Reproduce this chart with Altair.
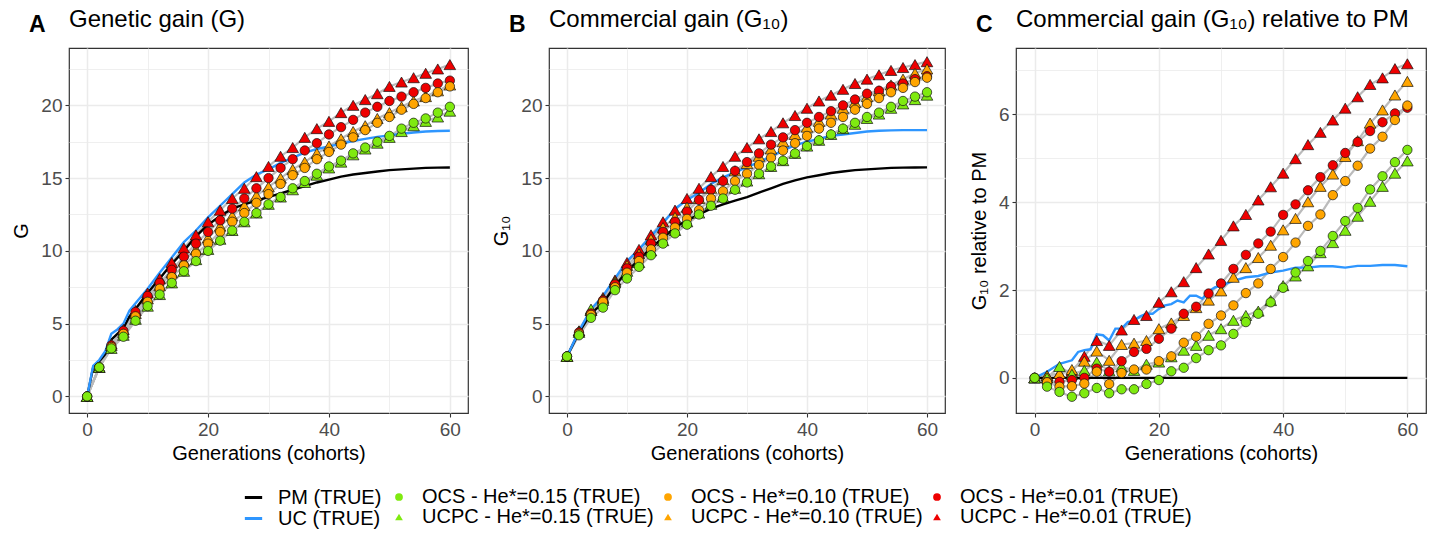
import altair as alt
import pandas as pd

# ---------------- data ----------------
GENS = list(range(0, 61, 2))

LINE_SERIES = ["PM (TRUE)", "UC (TRUE)"]
LINE_COLORS = ["#000000", "#2E96FF"]
# legend order (filled column by column): OCS over UCPC in each column
MARK_SERIES = ["OCS - He*=0.15 (TRUE)", "UCPC - He*=0.15 (TRUE)",
               "OCS - He*=0.10 (TRUE)", "UCPC - He*=0.10 (TRUE)",
               "OCS - He*=0.01 (TRUE)", "UCPC - He*=0.01 (TRUE)"]
OCS_SERIES = ["OCS - He*=0.15 (TRUE)", "OCS - He*=0.10 (TRUE)", "OCS - He*=0.01 (TRUE)"]
UCPC_SERIES = ["UCPC - He*=0.15 (TRUE)", "UCPC - He*=0.10 (TRUE)", "UCPC - He*=0.01 (TRUE)"]
MARK_FILLS = ["#7FEA10", "#7FEA10", "#FFA500", "#FFA500", "#EE0000", "#EE0000"]
MARK_SHAPES = ["circle", "triangle-up", "circle", "triangle-up", "circle", "triangle-up"]

# Panel A : genetic gain G
A_pm_g = [0, 1, 2, 3, 4, 5, 6, 7, 8] + list(range(10, 61, 2))
A_pm = [0, 2.0, 2.4, 2.9, 3.9, 4.3, 4.7, 5.5, 6.0, 7.1, 8.1, 9.1, 10.0, 11.0, 11.8, 12.4, 12.9, 13.2,
        13.45, 13.7, 13.95, 14.2, 14.45, 14.7, 14.9, 15.1, 15.25, 15.35, 15.45, 15.55, 15.6, 15.65,
        15.7, 15.72, 15.73]
A_uc_g = [0, 1, 2, 3, 4, 5, 6, 7, 8] + list(range(10, 61, 2))
A_uc = [0, 2.1, 2.5, 3.1, 4.3, 4.6, 5.0, 5.9, 6.4, 7.4, 8.5, 9.55, 10.6, 11.4, 12.3, 13.1, 13.9, 14.7,
        15.25, 15.6, 16.05, 16.4, 16.75, 17.0, 17.17, 17.37, 17.55, 17.7, 17.83, 17.94, 18.05, 18.13,
        18.2, 18.24, 18.25]
A_ucpc01 = [0, 2.0, 3.6, 4.6, 5.9, 7.1, 8.1, 9.2, 10.2, 11.1, 12.0, 12.8, 13.6, 14.3, 15.1, 15.8,
            16.5, 17.1, 17.8, 18.4, 18.9, 19.5, 20.0, 20.4, 20.8, 21.3, 21.6, 21.9, 22.2, 22.5, 22.8]
A_ocs01 = [0, 2.0, 3.5, 4.5, 5.8, 6.9, 7.8, 8.7, 9.6, 10.5, 11.3, 12.1, 12.9, 13.6, 14.3, 15.0,
           15.7, 16.3, 16.9, 17.4, 18.0, 18.5, 19.0, 19.5, 19.9, 20.3, 20.6, 20.9, 21.2, 21.5, 21.7]
A_ucpc10 = [0, 2.0, 3.5, 4.4, 5.7, 6.7, 7.6, 8.5, 9.3, 10.1, 10.9, 11.7, 12.4, 13.1, 13.8, 14.4,
            15.0, 15.6, 16.1, 16.7, 17.2, 17.7, 18.2, 18.6, 19.1, 19.5, 19.9, 20.3, 20.6, 21.0, 21.4]
A_ocs10 = [0, 2.0, 3.4, 4.3, 5.5, 6.5, 7.4, 8.2, 9.0, 9.8, 10.5, 11.3, 12.0, 12.6, 13.3, 13.9,
           14.6, 15.2, 15.7, 16.3, 16.8, 17.3, 17.8, 18.3, 18.8, 19.2, 19.7, 20.1, 20.5, 20.9, 21.3]
A_ucpc15 = [0, 2.0, 3.3, 4.2, 5.3, 6.2, 7.0, 7.8, 8.6, 9.4, 10.1, 10.8, 11.4, 12.0, 12.6, 13.2,
            13.7, 14.2, 14.7, 15.2, 15.7, 16.1, 16.6, 17.0, 17.4, 17.8, 18.2, 18.6, 18.9, 19.2, 19.6]
A_ocs15 = [0, 2.0, 3.3, 4.1, 5.2, 6.2, 7.0, 7.8, 8.6, 9.3, 10.0, 10.7, 11.4, 12.0, 12.6, 13.2,
           13.7, 14.3, 14.8, 15.3, 15.8, 16.2, 16.7, 17.1, 17.5, 17.9, 18.4, 18.8, 19.1, 19.5, 19.9]

# Panel B : commercial gain G10
B_pm_g = GENS
B_pm = [2.75, 4.4, 5.7, 6.4, 7.6, 8.6, 9.4, 10.2, 10.9, 11.6, 12.1, 12.5, 12.9, 13.2, 13.45, 13.7,
        14.0, 14.3, 14.6, 14.85, 15.05, 15.2, 15.35, 15.45, 15.55, 15.6, 15.65, 15.7, 15.72, 15.73, 15.74]
B_uc_g = GENS
B_uc = [2.75, 4.5, 6.0, 6.9, 8.1, 9.3, 10.1, 11.0, 11.9, 12.9, 13.5, 14.0, 14.6, 15.05, 15.4, 15.75,
        16.1, 16.5, 16.9, 17.25, 17.5, 17.7, 17.9, 18.0, 18.1, 18.2, 18.25, 18.28, 18.3, 18.3, 18.3]
B_ucpc01 = [2.75, 4.5, 5.9, 6.8, 8.0, 9.2, 10.1, 11.1, 12.0, 12.8, 13.6, 14.3, 15.1, 15.8, 16.5, 17.1,
            17.7, 18.2, 18.8, 19.3, 19.8, 20.3, 20.7, 21.1, 21.5, 21.8, 22.1, 22.4, 22.6, 22.8, 23.0]
B_ocs01 = [2.75, 4.4, 5.7, 6.6, 7.7, 8.8, 9.6, 10.5, 11.3, 12.0, 12.7, 13.5, 14.2, 14.8, 15.5, 16.1,
           16.7, 17.3, 17.8, 18.3, 18.8, 19.2, 19.6, 20.0, 20.4, 20.8, 21.0, 21.3, 21.5, 21.8, 22.0]
B_ucpc10 = [2.75, 4.5, 5.9, 6.7, 7.9, 9.0, 9.8, 10.8, 11.6, 12.3, 13.0, 13.6, 14.3, 14.9, 15.5, 16.0,
            16.5, 17.0, 17.5, 18.0, 18.5, 18.9, 19.4, 19.8, 20.2, 20.6, 21.0, 21.4, 21.8, 22.2, 22.5]
B_ocs10 = [2.75, 4.3, 5.6, 6.5, 7.5, 8.5, 9.3, 10.1, 10.9, 11.6, 12.2, 12.8, 13.6, 14.1, 14.8, 15.3,
           15.9, 16.4, 16.9, 17.4, 17.9, 18.4, 18.8, 19.2, 19.7, 20.1, 20.5, 20.9, 21.2, 21.6, 21.9]
B_ucpc15 = [2.75, 4.4, 6.0, 6.6, 7.8, 8.6, 9.2, 10.0, 10.7, 11.4, 12.0, 12.6, 13.2, 13.7, 14.3, 14.8,
            15.3, 15.8, 16.2, 16.7, 17.2, 17.6, 18.0, 18.4, 18.7, 19.1, 19.4, 19.8, 20.1, 20.4, 20.7]
B_ocs15 = [2.75, 4.2, 5.4, 6.1, 7.3, 8.1, 8.9, 9.7, 10.5, 11.2, 11.8, 12.5, 13.1, 13.6, 14.2, 14.7,
           15.3, 15.8, 16.2, 16.7, 17.2, 17.6, 18.0, 18.4, 18.8, 19.2, 19.5, 19.9, 20.3, 20.6, 20.9]

# Panel C : G10 relative to PM
C_pm_g = [0, 60]
C_pm = [0, 0]
C_uc_g = [0, 2, 4, 6] + list(range(7, 31)) + list(range(32, 61, 2))
C_uc = [0, 0.14, 0.32, 0.4, 0.59, 0.63, 0.65, 0.99, 0.97, 0.85, 1.12, 1.12, 1.27, 1.31, 1.4, 1.46,
        1.46, 1.57, 1.65, 1.68, 1.76, 1.72, 1.87, 1.87, 1.8, 1.97, 2.06, 2.1, 2.21, 2.29, 2.32, 2.4,
        2.44, 2.51, 2.51, 2.54, 2.54, 2.51, 2.55, 2.55, 2.57, 2.57, 2.54]
C_ucpc01 = [0, 0.05, 0.1, 0.15, 0.49, 0.85, 0.74, 1.09, 1.33, 1.42, 1.72, 1.96, 2.19, 2.51, 2.82, 3.13,
            3.46, 3.72, 4.05, 4.35, 4.66, 4.99, 5.31, 5.59, 5.87, 6.14, 6.40, 6.68, 6.83, 7.04, 7.15]
C_ocs01 = [0, -0.1, -0.09, -0.05, 0.0, 0.21, 0.14, 0.38, 0.59, 0.66, 0.89, 1.12, 1.46, 1.62, 1.92, 2.15,
           2.48, 2.8, 3.06, 3.33, 3.71, 3.95, 4.27, 4.57, 4.84, 5.12, 5.37, 5.62, 5.82, 6.02, 6.15]
C_ucpc10 = [0, 0.05, 0.1, 0.19, 0.38, 0.61, 0.4, 0.76, 0.79, 0.85, 1.12, 1.25, 1.42, 1.6, 1.77, 1.98,
            2.29, 2.51, 2.74, 3.02, 3.37, 3.63, 4.01, 4.36, 4.64, 5.04, 5.4, 5.8, 6.1, 6.44, 6.75]
C_ocs10 = [0, -0.1, -0.2, -0.19, -0.13, 0.14, -0.14, 0.11, 0.19, 0.19, 0.38, 0.49, 0.8, 0.94, 1.23, 1.42,
           1.65, 1.93, 2.15, 2.48, 2.75, 3.08, 3.46, 3.72, 4.16, 4.48, 4.83, 5.22, 5.49, 5.87, 6.2]
C_ucpc15 = [0, 0.0, 0.26, 0.08, 0.17, 0.36, 0.16, 0.25, 0.17, 0.31, 0.36, 0.48, 0.63, 0.74, 0.97, 1.12,
            1.31, 1.42, 1.52, 1.76, 2.1, 2.32, 2.55, 2.85, 3.08, 3.36, 3.68, 4.02, 4.36, 4.66, 4.94]
C_ocs15 = [0, -0.2, -0.32, -0.43, -0.35, -0.23, -0.35, -0.26, -0.26, -0.14, -0.05, 0.15, 0.23, 0.45, 0.63,
           0.74, 1.0, 1.27, 1.46, 1.72, 2.05, 2.4, 2.66, 2.89, 3.23, 3.57, 3.87, 4.29, 4.59, 4.91, 5.19]

# ---------------- styling ----------------
FONT = "Liberation Sans"
GRID = "#EBEBEB"

stroke_scale = alt.Scale(domain=LINE_SERIES, range=LINE_COLORS)
fill_scale = alt.Scale(domain=MARK_SERIES, range=MARK_FILLS)
shape_scale = alt.Scale(domain=MARK_SERIES, range=MARK_SHAPES)

LEG_Y = 439
LINE_LEGEND = alt.Legend(
    title=None, orient="none", legendX=174, legendY=LEG_Y, columns=1,
    labelFont=FONT, labelFontSize=20, labelColor="#000000", labelLimit=400,
    rowPadding=-5, labelOffset=14, symbolType="stroke", symbolSize=300, symbolStrokeWidth=3,
)
MARK_LEGEND = alt.Legend(
    title=None, orient="none", legendX=320, legendY=LEG_Y, columns=3,
    labelFont=FONT, labelFontSize=20, labelColor="#000000", labelLimit=400,
    rowPadding=-5, columnPadding=4, labelOffset=13, symbolSize=60, symbolStrokeWidth=0.7,
    symbolStrokeColor="#111111", symbolOpacity=1,
)


def x_enc():
    return alt.X(
        "gen:Q",
        scale=alt.Scale(domain=[-3, 63], nice=False, zero=False),
        axis=alt.Axis(
            title="Generations (cohorts)",
            values=list(range(0, 61, 10)),
            labelExpr="datum.value % 20 === 0 ? datum.label : ''",
            gridWidth={"condition": {"test": "datum.value % 20 !== 0", "value": 0.8}, "value": 1.5},
            tickOpacity={"condition": {"test": "datum.value % 20 !== 0", "value": 0}, "value": 1},
        ),
    )


def y_enc(domain, values, major, title):
    test = f"abs(datum.value % {major}) > 1e-9"
    return alt.Y(
        "val:Q",
        scale=alt.Scale(domain=domain, nice=False, zero=False),
        axis=alt.Axis(
            title=title,
            values=values,
            labelExpr=f"{test} ? '' : datum.label",
            gridWidth={"condition": {"test": test, "value": 0.8}, "value": 1.5},
            tickOpacity={"condition": {"test": test, "value": 0}, "value": 1},
        ),
    )


def panel(pm_g, pm, uc_g, uc, markers, ydomain, yvalues, ymajor, ytitle, title, tag, width):
    lines_rows = [{"gen": g, "val": v, "series": "PM (TRUE)"} for g, v in zip(pm_g, pm)]
    lines_rows += [{"gen": g, "val": v, "series": "UC (TRUE)"} for g, v in zip(uc_g, uc)]
    lines_df = pd.DataFrame(lines_rows)
    pts_rows = []
    for i, (name, vals) in enumerate(markers):
        pts_rows += [{"gen": g, "val": v, "series": name, "ord": i} for g, v in zip(GENS, vals)]
    pts_df = pd.DataFrame(pts_rows)

    x = x_enc()
    y = y_enc(ydomain, yvalues, ymajor, ytitle)

    base_pts = alt.Chart(pts_df)
    grey = base_pts.mark_line(color="#BBBBBB", strokeWidth=2.2).encode(
        x=x, y=y, detail="series:N")
    lines = alt.Chart(lines_df).mark_line(strokeWidth=2.4).encode(
        x=x, y=y,
        stroke=alt.Stroke("series:N", scale=stroke_scale, legend=LINE_LEGEND),
    )
    pt_enc = dict(
        x=x, y=y,
        fill=alt.Fill("series:N", scale=fill_scale, legend=MARK_LEGEND),
        shape=alt.Shape("series:N", scale=shape_scale, legend=MARK_LEGEND),
        order=alt.Order("ord:Q"),
    )
    tri = base_pts.mark_point(filled=True, opacity=1, stroke="#111111", strokeWidth=0.7, size=135).encode(
        **pt_enc).transform_filter(alt.FieldOneOfPredicate(field="series", oneOf=UCPC_SERIES))
    circ = base_pts.mark_point(filled=True, opacity=1, stroke="#111111", strokeWidth=0.7, size=88).encode(
        **pt_enc).transform_filter(alt.FieldOneOfPredicate(field="series", oneOf=OCS_SERIES))

    txt_df = pd.DataFrame({"tag": [tag], "title": [title]})
    tagtext = alt.Chart(txt_df).mark_text(
        font=FONT, fontSize=23, fontWeight="bold", align="left", baseline="alphabetic", color="#000000"
    ).encode(text="tag:N", x=alt.value(-40), y=alt.value(-16))
    titletext = alt.Chart(txt_df).mark_text(
        font=FONT, fontSize=24, align="left", baseline="alphabetic", color="#000000"
    ).encode(text="title:N", x=alt.value(0), y=alt.value(-21))

    return alt.layer(grey, lines, tri, circ, tagtext, titletext).properties(width=width, height=365)


A = panel(A_pm_g, A_pm, A_uc_g, A_uc,
          [("UCPC - He*=0.01 (TRUE)", A_ucpc01), ("OCS - He*=0.01 (TRUE)", A_ocs01),
           ("UCPC - He*=0.10 (TRUE)", A_ucpc10), ("OCS - He*=0.10 (TRUE)", A_ocs10),
           ("UCPC - He*=0.15 (TRUE)", A_ucpc15), ("OCS - He*=0.15 (TRUE)", A_ocs15)],
          [-1.14, 23.94], [0, 2.5, 5, 7.5, 10, 12.5, 15, 17.5, 20, 22.5], 5, "G",
          "Genetic gain (G)", "A", 399)
B = panel(B_pm_g, B_pm, B_uc_g, B_uc,
          [("UCPC - He*=0.01 (TRUE)", B_ucpc01), ("OCS - He*=0.01 (TRUE)", B_ocs01),
           ("UCPC - He*=0.10 (TRUE)", B_ucpc10), ("OCS - He*=0.10 (TRUE)", B_ocs10),
           ("UCPC - He*=0.15 (TRUE)", B_ucpc15), ("OCS - He*=0.15 (TRUE)", B_ocs15)],
          [-1.14, 23.94], [0, 2.5, 5, 7.5, 10, 12.5, 15, 17.5, 20, 22.5], 5, "G₁₀",
          "Commercial gain (G₁₀)", "B", 396)
C = panel(C_pm_g, C_pm, C_uc_g, C_uc,
          [("UCPC - He*=0.01 (TRUE)", C_ucpc01), ("OCS - He*=0.01 (TRUE)", C_ocs01),
           ("UCPC - He*=0.10 (TRUE)", C_ucpc10), ("OCS - He*=0.10 (TRUE)", C_ocs10),
           ("UCPC - He*=0.15 (TRUE)", C_ucpc15), ("OCS - He*=0.15 (TRUE)", C_ocs15)],
          [-0.80, 7.51], [0, 1, 2, 3, 4, 5, 6, 7], 2, "G₁₀ relative to PM",
          "Commercial gain (G₁₀) relative to PM", "C", 410)

chart = alt.hconcat(A, B, C, spacing=22).resolve_scale(
    x="independent", y="independent", fill="shared", stroke="shared", shape="shared"
).properties(
    padding={"left": 11, "top": 7, "right": 4, "bottom": 2},
    background="#FFFFFF",
).configure_view(
    stroke="#333333", strokeWidth=1.2,
).configure_axis(
    domain=False, grid=True, gridColor=GRID,
    labelFont=FONT, labelFontSize=19, labelColor="#4D4D4D", labelPadding=3,
    titleFont=FONT, titleFontSize=20, titleFontWeight="normal", titleColor="#000000",
    tickColor="#333333", tickSize=4, tickWidth=1.1,
).configure_axisY(titlePadding=9).configure_axisX(titlePadding=4)

chart.save("out.html", embed_options={"renderer": "svg", "actions": False})
